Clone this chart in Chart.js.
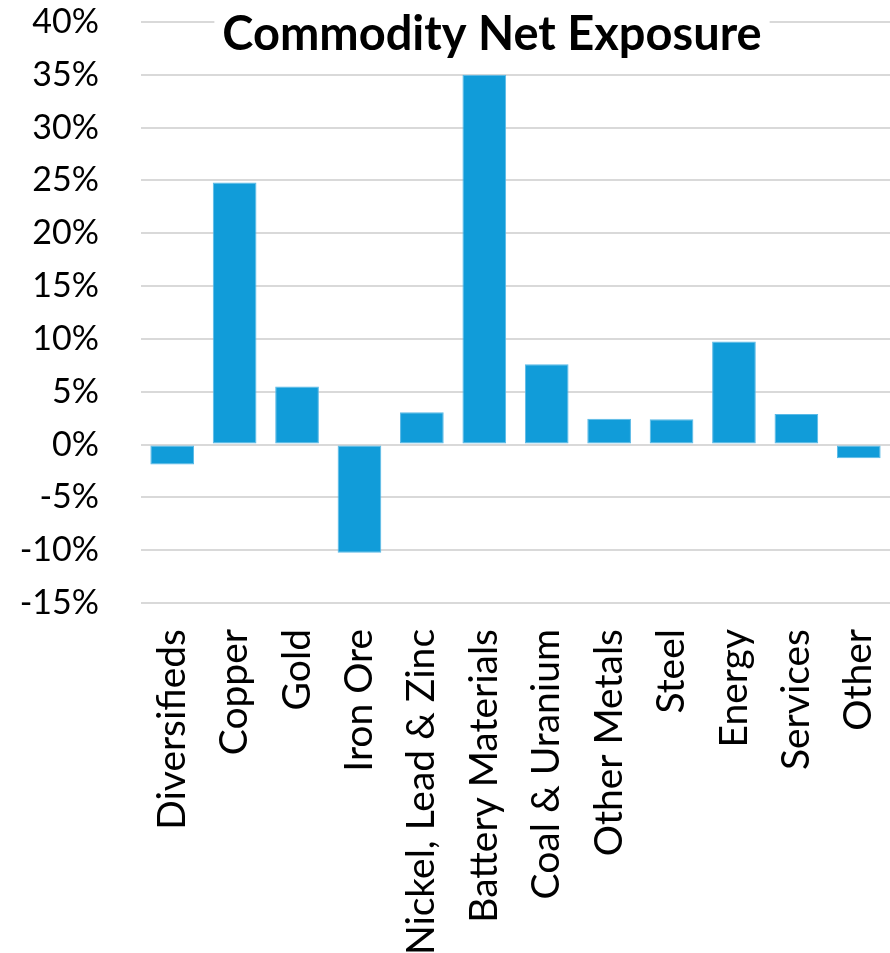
<!DOCTYPE html>
<html>
<head>
<meta charset="utf-8">
<script src="https://cdn.jsdelivr.net/npm/chart.js@4/dist/chart.umd.min.js"></script>
<style>
  html, body { margin: 0; padding: 0; background: #fff; overflow: hidden; }
  #wrap { position: relative; width: 890px; height: 953px; }
</style>
</head>
<body>
<div id="wrap"><canvas id="exposure" aria-label="Commodity Net Exposure"></canvas></div>
<script>
const chartTitle = 'Commodity Net Exposure';
const categories = [
  'Diversifieds', 'Copper', 'Gold', 'Iron Ore', 'Nickel, Lead & Zinc',
  'Battery Materials', 'Coal & Uranium', 'Other Metals', 'Steel',
  'Energy', 'Services', 'Other'
];
const netExposure = [-1.9, 24.8, 5.5, -10.25, 3.05, 35.0, 7.6, 2.45, 2.4, 9.75, 2.9, -1.3];
const yMin = -15;
const yMax = 40;
const yStep = 5;

const FONT = 'Lato, "Open Sans", sans-serif';

// title sits inside the plot on a white box, over the top gridline
const titleBox = {
  id: 'titleBox',
  afterDraw(chart) {
    const ctx = chart.ctx;
    ctx.save();
    ctx.font = 'bold 47px ' + FONT;
    ctx.textAlign = 'center';
    ctx.textBaseline = 'middle';
    const cx = 492, cy = 35;
    const w = ctx.measureText(chartTitle).width;
    ctx.fillStyle = '#fff';
    ctx.fillRect(cx - w / 2 - 8, cy - 26, w + 16, 48);
    ctx.fillStyle = '#000';
    ctx.fillText(chartTitle, cx, cy);
    ctx.restore();
  }
};

// keep the plot flush with the canvas: no extra room for edge labels
function fixPadding(scale) {
  scale.paddingTop = 0;
  scale.paddingBottom = 0;
  scale.paddingLeft = 0;
  scale.paddingRight = 0;
}

new Chart(document.getElementById('exposure'), {
  type: 'bar',
  data: {
    labels: categories,
    datasets: [{
      label: 'Net exposure',
      data: netExposure,
      backgroundColor: '#119CD9',
      borderColor: '#5AB9E6',
      borderWidth: 1,
      borderSkipped: false,
      categoryPercentage: 1,
      barPercentage: 0.7
    }]
  },
  options: {
    responsive: true,
    maintainAspectRatio: false,
    animation: false,
    layout: { padding: { top: 22, left: 0, right: 0, bottom: 0 } },
    plugins: {
      legend: { display: false },
      tooltip: { enabled: false },
      title: { display: false }
    },
    scales: {
      x: {
        grid: { display: false, drawTicks: false },
        border: { display: false },
        afterFit(scale) { scale.height = 350; fixPadding(scale); },
        ticks: {
          autoSkip: false,
          minRotation: 90,
          maxRotation: 90,
          padding: 26,
          color: '#000',
          font: { family: FONT, size: 39 }
        }
      },
      y: {
        min: yMin,
        max: yMax,
        afterFit(scale) { scale.width = 141; fixPadding(scale); },
        grid: { color: '#d9d9d9', lineWidth: 2, drawTicks: false },
        border: { display: false },
        ticks: {
          stepSize: yStep,
          padding: 42,
          color: '#000',
          font: { family: FONT, size: 34 },
          callback: v => v + '%'
        }
      }
    }
  },
  plugins: [titleBox]
});
</script>
</body>
</html>
